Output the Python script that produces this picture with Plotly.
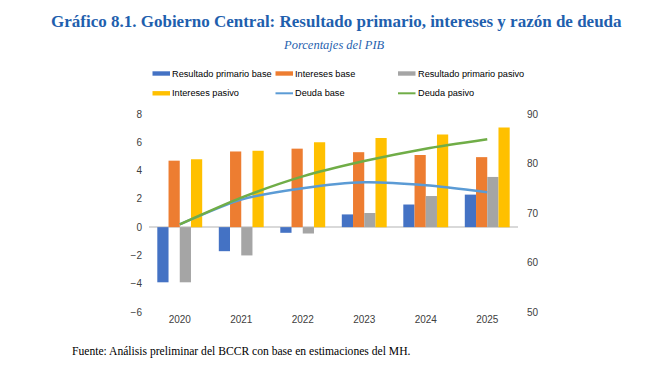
import plotly.graph_objects as go

years = ["2020", "2021", "2022", "2023", "2024", "2025"]
resultado_base = [-3.9, -1.7, -0.4, 0.9, 1.6, 2.3]
intereses_base = [4.7, 5.35, 5.55, 5.3, 5.1, 4.95]
resultado_pasivo = [-3.9, -2.0, -0.45, 1.0, 2.2, 3.55]
intereses_pasivo = [4.8, 5.4, 6.0, 6.3, 6.55, 7.05]
deuda_base = [67.7, 72.7, 75.0, 76.2, 75.6, 74.2]
deuda_pasivo = [67.7, 73.1, 77.4, 80.5, 83.0, 84.9]

bar_names = ["Resultado primario base", "Intereses base", "Resultado primario pasivo", "Intereses pasivo"]
line_names = ["Deuda base", "Deuda pasivo"]
left_ticks = [8, 6, 4, 2, 0, -2, -4, -6]
right_ticks = [90, 80, 70, 60, 50]

bar_colors = ["#4472C4", "#ED7D31", "#A5A5A5", "#FFC000"]
line_colors = ["#5B9BD5", "#70AD47"]

# page body has an 8px margin; figure sized so the whole thing fits the window
OFF = 8
W, H = 663, 368
L, R, T, B = 141, 153, 106, 64

fig = go.Figure()
for name, vals, col in zip(bar_names, [resultado_base, intereses_base, resultado_pasivo, intereses_pasivo], bar_colors):
    fig.add_trace(go.Bar(x=years, y=vals, name=name, marker=dict(color=col, line=dict(width=0)),
                         showlegend=False, yaxis="y"))
for name, vals, col in zip(line_names, [deuda_base, deuda_pasivo], line_colors):
    fig.add_trace(go.Scatter(x=years, y=vals, name=name, mode="lines",
                             line=dict(color=col, width=2.5, shape="spline", smoothing=0.7),
                             showlegend=False, yaxis="y2"))

tick_font = dict(family="Liberation Sans, Arial, sans-serif", size=10, color="#404040")

fig.update_layout(
    width=W, height=H,
    margin=dict(l=L, r=R, t=T, b=B),
    paper_bgcolor="white", plot_bgcolor="white",
    barmode="group", bargap=0.27, bargroupgap=0,
    xaxis=dict(type="category", showgrid=False, showline=False, ticks="",
               tickfont=tick_font, range=[-0.5, 5.5], fixedrange=True),
    yaxis=dict(range=[-6, 8], tickvals=left_ticks, showgrid=False, zeroline=True,
               zerolinecolor="#D9D9D9", zerolinewidth=1.5, showline=False,
               tickfont=tick_font, ticklabelstandoff=6),
    yaxis2=dict(range=[50, 90], tickvals=right_ticks, overlaying="y", side="right",
                showgrid=False, zeroline=False, showline=False, tickfont=tick_font,
                ticklabelstandoff=8),
    showlegend=False,
)


def px(xwin):
    return (xwin - OFF - L) / (W - L - R)


def py(ywin):
    return (H - B - (ywin - OFF)) / (H - T - B)


ann = []
shapes = []
serif = "Liberation Serif, Times New Roman, serif"
ann.append(dict(text="<b>Gráfico 8.1. Gobierno Central: Resultado primario, intereses y razón de deuda</b>",
                x=px(336), y=py(22), xref="paper", yref="paper", xanchor="center", yanchor="middle",
                showarrow=False, font=dict(family=serif, size=17, color="#1F5FAE")))
ann.append(dict(text="<i>Porcentajes del PIB</i>",
                x=px(334), y=py(45), xref="paper", yref="paper", xanchor="center", yanchor="middle",
                showarrow=False, font=dict(family=serif, size=12.5, color="#1F5FAE")))
ann.append(dict(text="Fuente: Análisis preliminar del BCCR con base en estimaciones del MH.",
                x=px(70), y=py(351), xref="paper", yref="paper", xanchor="left", yanchor="middle",
                showarrow=False, font=dict(family=serif, size=11.6, color="#000000")))

legend_items = [
    (bar_names[0], bar_colors[0], "bar", 152.5, 73.5),
    (bar_names[1], bar_colors[1], "bar", 275.5, 73.5),
    (bar_names[2], bar_colors[2], "bar", 398, 73.5),
    (bar_names[3], bar_colors[3], "bar", 152.5, 93.3),
    (line_names[0], line_colors[0], "line", 275.5, 93.3),
    (line_names[1], line_colors[1], "line", 398, 93.3),
]
for name, col, kind, x0, yc in legend_items:
    hh = 2.2 if kind == "bar" else 1.0
    shapes.append(dict(type="rect", xref="paper", yref="paper",
                       x0=px(x0), x1=px(x0 + 17.5), y0=py(yc + hh), y1=py(yc - hh),
                       fillcolor=col, line=dict(width=0)))
    ann.append(dict(text=name, x=px(x0 + 17.5), y=py(yc), xref="paper", yref="paper",
                    xanchor="left", yanchor="middle", showarrow=False,
                    font=dict(family="Liberation Sans, Arial, sans-serif", size=9.2, color="#000000")))

fig.update_layout(annotations=ann, shapes=shapes)
fig.write_html("out.html")
